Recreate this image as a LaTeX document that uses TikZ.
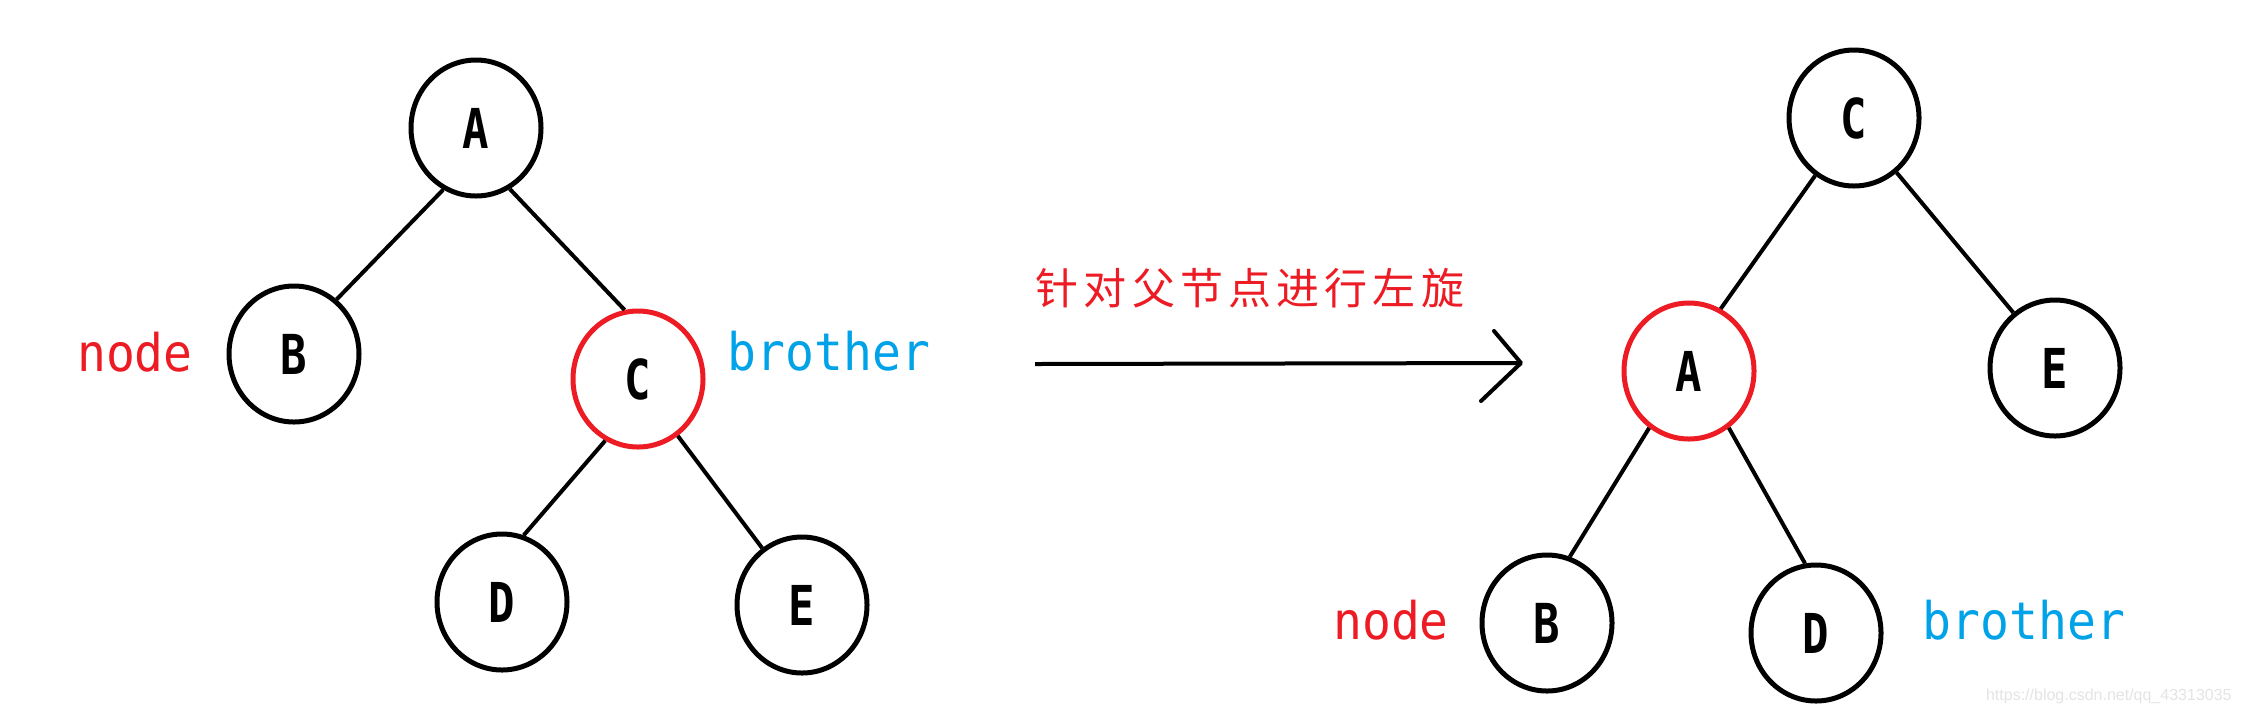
\documentclass[tikz,border=0pt]{standalone}
\usepackage{fontspec}
\usepackage{graphicx}
\usetikzlibrary{shapes.geometric}
\newfontfamily\labfont{DejaVu Sans Mono}
\newfontfamily\cjkfont[LetterSpace=12]{Noto Sans CJK SC}
\newfontfamily\wmfont{Liberation Sans}
\definecolor{pred}{HTML}{ED1C24}
\definecolor{pblue}{HTML}{00A2E8}
\definecolor{wmgray}{HTML}{E4E4E4}
\newcommand{\nl}[1]{\scalebox{0.8}[1]{#1}}
\begin{document}
\begin{tikzpicture}[x=0.5pt,y=-0.5pt,
  tnode/.style={ellipse,draw=black,line width=2.5pt,minimum width=65pt,minimum height=68pt,inner sep=0pt,font=\labfont\bfseries\fontsize{27.5pt}{30pt}\selectfont},
  hlnode/.style={tnode,draw=pred},
  conn/.style={line width=2pt,black},
  redlab/.style={text=pred,inner sep=0pt,font=\labfont\fontsize{24pt}{28pt}\selectfont},
  bluelab/.style={redlab,text=pblue}]
\useasboundingbox[fill=white] (0,0) rectangle (2241,714);
% left tree
\node[tnode] (lA) at (476,128) {\nl{A}};
\node[tnode] (lB) at (294,354) {\nl{B}};
\node[hlnode] (lC) at (638,379) {\nl{C}};
\node[tnode] (lD) at (502,602) {\nl{D}};
\node[tnode] (lE) at (802,605) {\nl{E}};
\draw[conn] (lA.242) -- (lB.52);
\draw[conn] (lA.299) -- (lC.101);
\draw[conn] (lC.242) -- (lD.72);
\draw[conn] (lC.305) -- (lE.125);
\node[redlab] (lnode) at (135,352) {\scalebox{1}[1.08]{node}};
\node[bluelab] (lbro) at (829,351) {\scalebox{1}[1.08]{brother}};
% arrow
\coordinate (arrS) at (1035,364);
\coordinate (arrT) at (1521,363);
\coordinate (hU) at (1494,331);
\coordinate (hL) at (1481,401);
\draw[conn] (arrS) -- (arrT);
\draw[conn,line cap=round,line join=round] (hU) -- (arrT) -- (hL);
\node[text=pred,inner sep=0pt,font=\cjkfont\fontsize{21.5pt}{26pt}\selectfont] (cap) at (1250,288) {针对父节点进行左旋};
% right tree
\node[tnode] (rC) at (1854,118) {\nl{C}};
\node[hlnode] (rA) at (1689,371) {\nl{A}};
\node[tnode] (rE) at (2055,368) {\nl{E}};
\node[tnode] (rB) at (1547,623) {\nl{B}};
\node[tnode] (rD) at (1816,633) {\nl{D}};
\draw[conn] (rC.236) -- (rA.63);
\draw[conn] (rC.308) -- (rE.127);
\draw[conn] (rA.235) -- (rB.71);
\draw[conn] (rA.305) -- (rD.99);
\node[redlab] (rnode) at (1391,620) {\scalebox{1}[1.08]{node}};
\node[bluelab] (rbro) at (2024,620) {\scalebox{1}[1.08]{brother}};
% watermark
\node[text=wmgray,inner sep=0pt,anchor=east,font=\wmfont\fontsize{8pt}{9pt}\selectfont] (wm) at (2232,696) {https://blog.csdn.net/qq\_43313035};
\end{tikzpicture}
\end{document}
